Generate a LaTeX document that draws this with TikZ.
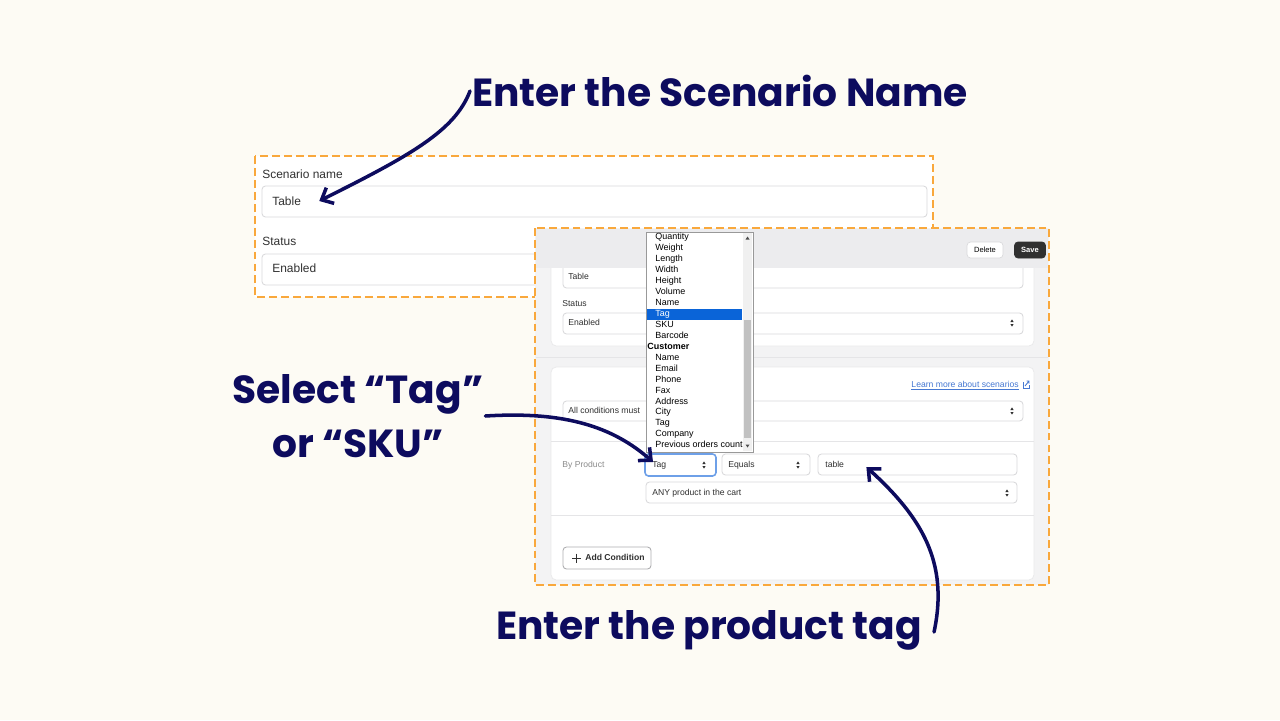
\documentclass[tikz,border=0pt]{standalone}
\usepackage{fontspec}
\setmainfont{Liberation Sans}
\newfontfamily\headfont{Poppins}
\usetikzlibrary{calc, arrows.meta}

\definecolor{paper}{RGB}{253,251,244}
\definecolor{navy}{RGB}{13,11,94}
\definecolor{dashorange}{RGB}{249,168,60}
\definecolor{uitext}{RGB}{48,48,48}
\definecolor{uiline}{RGB}{218,218,220}
\definecolor{uigray}{RGB}{243,243,244}
\definecolor{uihead}{RGB}{236,236,238}
\definecolor{selblue}{RGB}{10,100,216}
\definecolor{focusblue}{RGB}{110,160,232}
\definecolor{linkblue}{RGB}{70,120,210}
\definecolor{thumbgray}{RGB}{193,193,193}
\definecolor{softgray}{RGB}{140,140,140}

\tikzset{
	heading/.style = {font=\headfont\bfseries\fontsize{22.3}{30.6}\selectfont, text=navy, inner sep=1pt},
	hint/.style = {navy, line width=2pt, line cap=round, -{Straight Barb[length=5.5pt, width=10pt]}},
	shot/.style = {draw=dashorange, line width=1.1pt, dash pattern=on 4.5pt off 2.3pt},
	field/.style = {draw=uiline, fill=white, rounded corners=2pt, line width=0.5pt},
	biglabel/.style = {anchor=west, inner sep=0pt, text=uitext, text height=5pt, text depth=1.4pt, font=\fontsize{6.8}{8}\selectfont},
	smalllabel/.style = {anchor=west, inner sep=0pt, text=uitext, text height=3.6pt, text depth=1pt, font=\fontsize{4.9}{6}\selectfont},
	item/.style = {anchor=west, inner sep=0pt, text=black, text height=3.7pt, text depth=1.1pt, font=\fontsize{5.1}{6}\selectfont},
	itemsel/.style = {item, text=white},
	itemhead/.style = {item, xshift=-4.5pt, font=\bfseries\fontsize{5.1}{6}\selectfont},
	button/.style = {draw=uiline, fill=white, rounded corners=2pt, inner sep=0pt, font=\fontsize{4.3}{5}\selectfont, minimum height=0.32cm},
	updown/.pic = {
		\fill[uitext] (-1.6,-1) -- (1.6,-1) -- (0,-3.6) -- cycle;
		\fill[uitext] (-1.6,1) -- (1.6,1) -- (0,3.6) -- cycle;
	}
}

\begin{document}
\begin{tikzpicture}[x=0.02cm, y=-0.02cm]
	\fill [paper] (0,0) rectangle (1280,720);
	\useasboundingbox (0,0) rectangle (1280,720);
	
	% first screenshot
	\fill [white] (255,156) rectangle (933,297);
	\node [biglabel] (namelabel) at (262,175) {Scenario name};
	\draw [field] (262,186) rectangle (927,217);
	\node [biglabel] (scenval) at (272,202) {Table};
	\node [biglabel] (statuslabel) at (262,242) {Status};
	\draw [field] (262,254) rectangle (940,285);
	\node [biglabel] (statusval) at (272,269) {Enabled};
	\draw [shot] (255,156) rectangle (933,297);
	
	% second screenshot
	\fill [uigray] (535,228) rectangle (1049,585);
	\filldraw [white, draw=uiline!60, rounded corners=3pt] (551,262) rectangle (1034,346);
	\draw [field] (563,262) rectangle (1023,288);
	\node [smalllabel] (cardname) at (568,277) {Table};
	\fill [uihead] (536,229) rectangle (1048,268);
	\node [button] (delbtn) at (985,250) [minimum width=0.72cm] {Delete};
	\node [button, fill=uitext, draw=uitext, text=white] (savebtn) at (1030,250) [minimum width=0.62cm] {\bfseries Save};
	\node [smalllabel] (cardstatus) at (562,304) {Status};
	\draw [field] (563,313) rectangle (1023,334);
	\node [smalllabel] (cardenabled) at (568,323) {Enabled};
	\pic at (1012,323) {updown};
	\draw [uiline!70] (536,357) -- (1048,357);
	
	\filldraw [white, draw=uiline!60, rounded corners=3pt] (551,367) rectangle (1034,580);
	\node [smalllabel, anchor=east, text=linkblue] (learn) at (1019,385) {\underline{Learn more about scenarios}};
	\draw [linkblue, line width=0.4pt] (1023,382) -- (1023,388) -- (1029,388) -- (1029,385);
	\draw [linkblue, line width=0.5pt] (1025,386) -- (1029,381) (1026.5,381) -- (1029,381) -- (1029,383.5);
	\draw [field] (563,401) rectangle (1023,421);
	\node [smalllabel] (allcond) at (568,411) {All conditions must};
	\pic at (1012,411) {updown};
	\draw [uiline!70] (551,441) -- (1034,441);
	\node [smalllabel, text=softgray] (byprod) at (562,465) {By Product};
	\draw [field, draw=focusblue, line width=0.9pt] (645,454) rectangle (716,476);
	\node [smalllabel] (tagsel) at (652,465) {Tag};
	\pic at (704,465) {updown};
	\draw [field] (722,454) rectangle (810,475);
	\node [smalllabel] (equalsel) at (728,465) {Equals};
	\pic at (798,465) {updown};
	\draw [field] (818,454) rectangle (1017,475);
	\node [smalllabel] (tagval) at (825,465) {table};
	\draw [field] (646,482) rectangle (1017,503);
	\node [smalllabel] (anysel) at (652,493) {ANY product in the cart};
	\pic at (1007,493) {updown};
	\draw [uiline!70] (551,515) -- (1034,515);
	\draw [field, draw=uiline!80!black] (563,547) rectangle (651,569);
	\draw [uitext, line width=0.5pt] (572,558) -- (581,558) (576.5,553.5) -- (576.5,562.5);
	\node [smalllabel] (addcond) at (585,558) {\bfseries Add Condition};
	
	% dropdown list
	\filldraw [white, draw=black!40, line width=0.5pt] (646,232) rectangle (753,452);
	\fill [black!6] (743,233) rectangle (752,451);
	\fill [thumbgray] (744,320) rectangle (751,438);
	\fill [black!70] (745.5,239.5) -- (749.5,239.5) -- (747.5,236.5) -- cycle;
	\fill [black!70] (745.5,444.5) -- (749.5,444.5) -- (747.5,447.5) -- cycle;
	\fill [selblue] (647,309) rectangle (742,320);
	\foreach \entry/\look [count=\i] in {Quantity/item, Weight/item, Length/item, Width/item, Height/item, Volume/item, Name/item, Tag/itemsel, SKU/item, Barcode/item, Customer/itemhead, Name/item, Email/item, Phone/item, Fax/item, Address/item, City/item, Tag/item, Company/item, Previous orders count/item}
		\node [\look] (opt\i) at (655, {237.5 + (\i-1)*10.95}) {\entry};
	
	\draw [shot] (535,228) rectangle (1049,585);
	
	% callouts
	\node [heading, anchor=west] (scenhead) at (470,91) {Enter the Scenario Name};
	\node [heading, align=center] (selecthead) at (358,416) {Select “Tag”\\or “SKU”};
	\node [heading] (taghead) at (709,630) {Enter the product tag};
	
	\draw [hint] (scenhead.west) .. controls +(-15,40) and +(90,-45) .. ($(scenval.east)+(18,-1)$);
	\draw [hint] (selecthead.east) .. controls +(80,-5) and +(-40,-35) .. ($(tagsel.west)+(1,-3)$);
	\draw [hint] ($(taghead.east)+(10,2)$) .. controls +(15,-70) and +(55,50) .. ($(tagval.east)+(22,2)$);
\end{tikzpicture}
\end{document}
